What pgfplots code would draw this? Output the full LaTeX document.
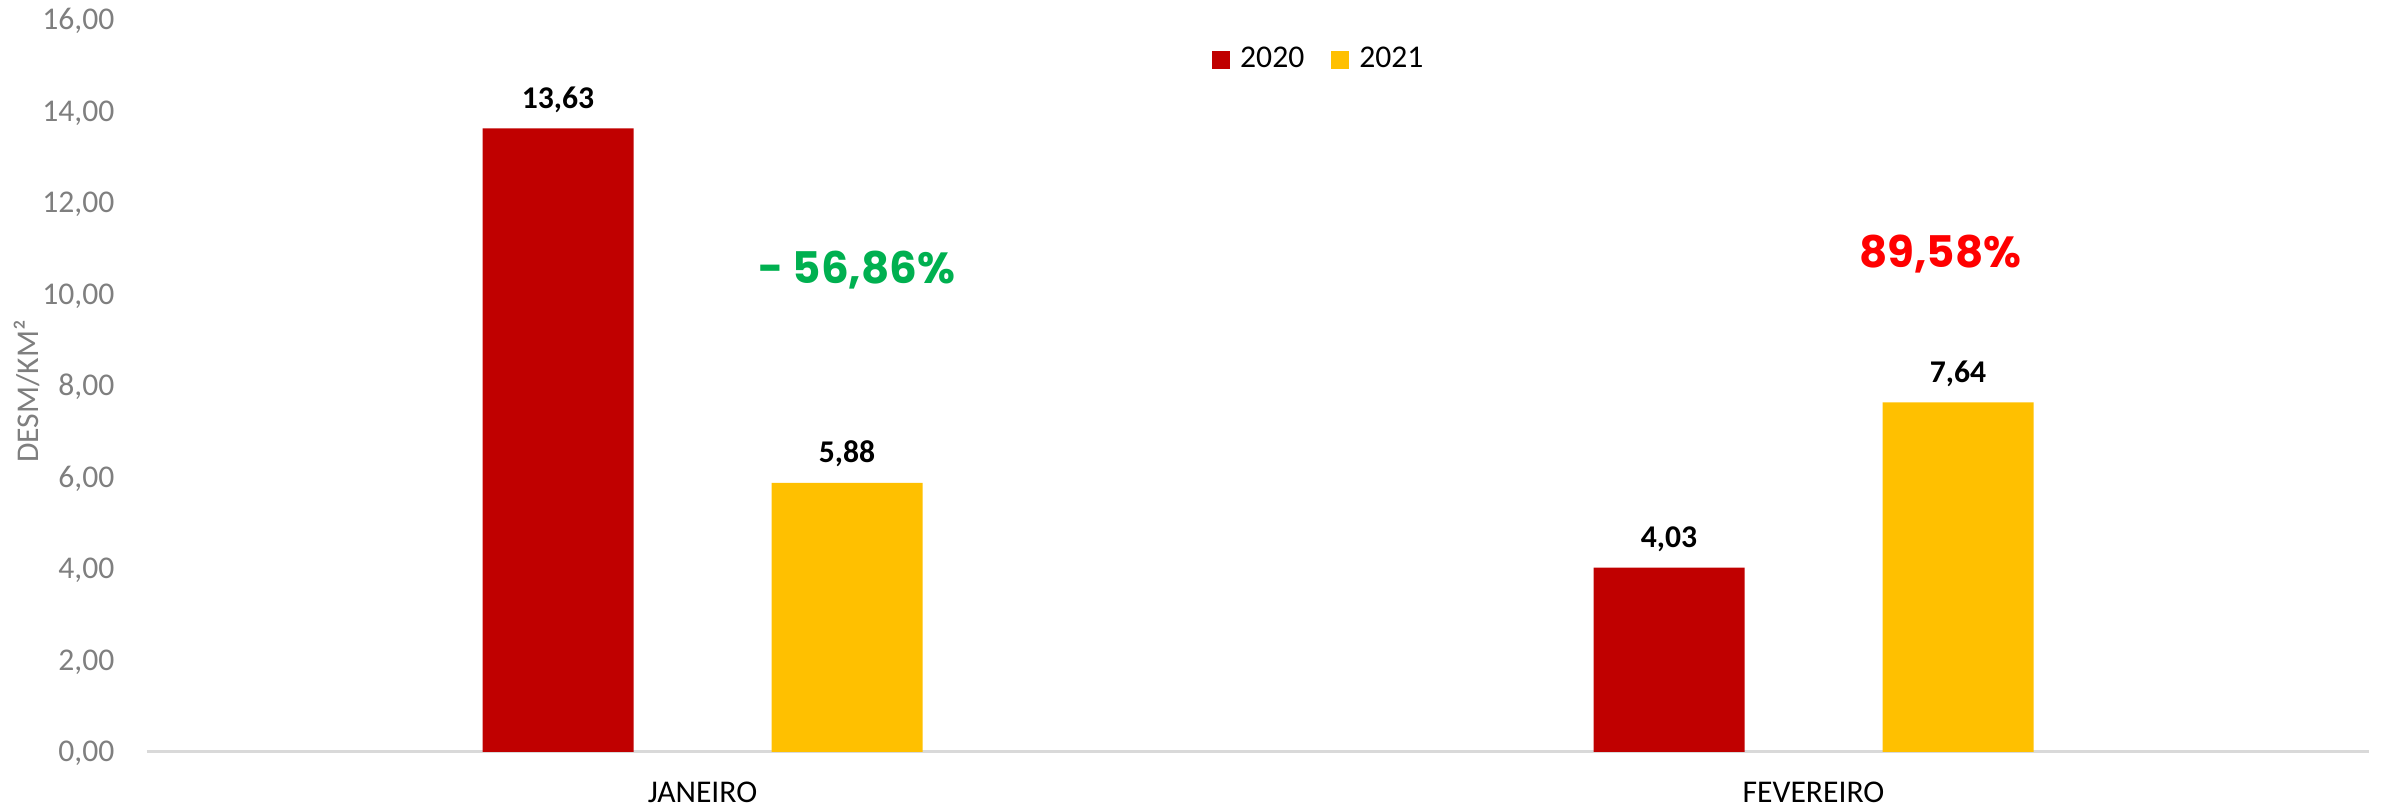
\documentclass[border=0pt]{standalone}
\usepackage{pgfplots}
\pgfplotsset{compat=1.18}
\usepackage{fontspec}
\setmainfont{Carlito}
\newfontfamily\pctfont{Poppins}
\definecolor{bar20}{HTML}{C00000}
\definecolor{bar21}{HTML}{FFC000}
\definecolor{tickgray}{HTML}{7F7F7F}
\definecolor{axisgray}{HTML}{D9D9D9}
\definecolor{pctgreen}{HTML}{00B050}
\definecolor{pctred}{HTML}{FF0000}

\begin{document}
\begin{tikzpicture}
\useasboundingbox (-1.47,-0.57) rectangle (22.35,7.52);
\begin{axis}[
    at={(0,0)}, anchor=south west,
    scale only axis,
    width=22.22cm, height=7.32cm,
    ybar, bar width=1.51cm,
    xmin=-0.5, xmax=1.5,
    ymin=0, ymax=16,
    enlargelimits=false,
    clip=false,
    xtick={0,1},
    xticklabels={JANEIRO,FEVEREIRO},
    ytick={0,2,...,16},
    axis x line*=bottom,
    axis y line*=left,
    x axis line style={-, draw=axisgray, line width=0.03cm},
    y axis line style={draw=none},
    tick style={draw=none},
    major tick length=0pt,
    /pgf/number format/fixed,
    /pgf/number format/fixed zerofill,
    /pgf/number format/precision=2,
    /pgf/number format/use comma,
    /pgf/number format/assume math mode=true,
    yticklabel style={font=\fontsize{9}{10}\selectfont, text=tickgray,
        anchor=base east, inner sep=0pt, xshift=-0.32cm, yshift=-0.10cm},
    xticklabel style={font=\fontsize{9}{10}\selectfont, text=black,
        anchor=base, inner sep=0pt, yshift=-0.51cm},
    nodes near coords,
    every node near coord/.append style={font=\bfseries\fontsize{9}{10}\selectfont,
        text=black, anchor=base, inner sep=0pt, yshift=0.20cm},
    legend style={at={(0.5285,0.945)}, anchor=center, draw=none, fill=none,
        legend columns=2, font=\fontsize{9}{10}\selectfont, inner sep=0pt,
        /tikz/every even column/.append style={column sep=0.20cm}},
    legend image code/.code={\fill[#1] (0cm,-0.09cm) rectangle (0.18cm,0.09cm);
        \path (0.21cm,0cm);},
]

\addplot[fill=bar20, draw=none, bar shift=-1.445cm] coordinates {
    (0, 13.63)
    (1, 4.03)
};
\addplot[fill=bar21, draw=none, bar shift=1.445cm] coordinates {
    (0, 5.88)
    (1, 7.64)
};
\legend{2020,2021}

% variation labels
\node[font=\pctfont\bfseries\fontsize{12.4}{14}\selectfont, text=pctgreen]
    at (axis cs:0.139,10.54) {- 56,86\%};
\node[font=\pctfont\bfseries\fontsize{12.4}{14}\selectfont, text=pctred]
    at (axis cs:1.114,10.89) {89,58\%};

% y axis title
\node[rotate=90, font=\fontsize{9}{10}\selectfont, text=tickgray]
    at (rel axis cs:-0.054,0.4925) {DESM/KM²};
\end{axis}
\end{tikzpicture}
\end{document}
